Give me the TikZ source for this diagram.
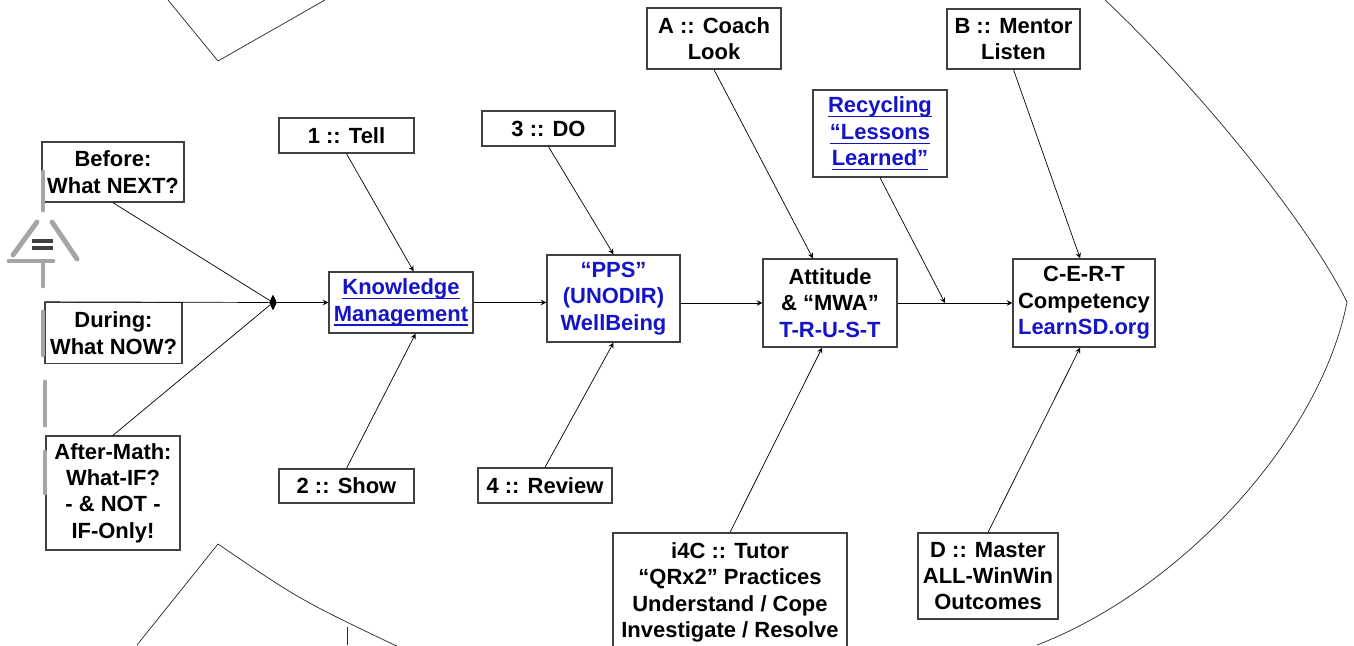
\documentclass[tikz,border=0pt]{standalone}
\usepackage{fontspec}
\setmainfont{Liberation Sans}
\usetikzlibrary{shapes.geometric}
\definecolor{linkblue}{RGB}{20,20,200}
\definecolor{boxgray}{RGB}{64,64,64}
\definecolor{signgray}{RGB}{165,165,165}
\newcommand{\lnk}[1]{\leavevmode\setbox0\hbox{#1}\rlap{\rule[-2.4pt]{\wd0}{0.6pt}}\box0}

\begin{document}
\begin{tikzpicture}[
    box/.style={draw=boxgray, line width=0.8pt, fill=white, align=center, inner sep=1pt,
      font=\bfseries\fontsize{12.5}{15}\selectfont},
    bone/.style={thin, -stealth},
    fin/.style={thin, draw=black!85},
    signline/.style={draw=signgray, line width=2.8pt, line cap=round}]
    \useasboundingbox (0,0) rectangle (27.08,-12.9);
    % fins and head
    \draw [fin] (3.36,0) -- (4.36,-1.22) -- (6.5,0);
    \draw [fin] (2.74,-12.9) -- (4.36,-10.88) .. controls (6.0,-12.0) .. (8.1,-13.0);
    \draw [fin] (6.94,-12.54) -- (6.94,-12.9);
    \draw [fin] (22.1,0) .. controls (23.7,-1.5) and (26.04,-4.24) .. (26.94,-6.04)
      .. controls (26.4,-8.8) and (23.6,-11.8) .. (20.74,-12.9);
    % causes
    \node [box, minimum width=2.84cm, minimum height=1.2cm] (before) at (2.26,-3.44) {Before:\\What NEXT?};
    \node [box, minimum width=2.74cm, minimum height=1.22cm] (during) at (2.27,-6.66) {During:\\What NOW?};
    \node [box, minimum width=2.68cm, minimum height=2.28cm] (after) at (2.26,-9.86) {After-Math:\\What-IF?\\- \& NOT -\\IF-Only!};
    \node [diamond, fill=black, inner sep=0pt, minimum width=0.16cm, minimum height=0.32cm] (merge) at (5.46,-6.05) {};
    \node [box, minimum width=2.7cm, minimum height=0.7cm] (tell) at (6.93,-2.71) {1 :: Tell};
    \node [box, minimum width=2.7cm, minimum height=0.68cm] (show) at (6.93,-9.72) {2 :: Show};
    \node [box, minimum width=2.88cm, minimum height=1.22cm, text=linkblue] (km) at (8.02,-6.05) {\lnk{Knowledge}\\\lnk{Management}};
    \node [box, minimum width=2.66cm, minimum height=0.7cm] (do) at (10.97,-2.57) {3 :: DO};
    \node [box, minimum width=2.68cm, minimum height=0.7cm] (review) at (10.9,-9.71) {4 :: Review};
    \node [box, minimum width=2.66cm, minimum height=1.74cm, text=linkblue] (pps) at (12.27,-5.97) {“PPS”\\(UNODIR)\\WellBeing};
    \node [box, minimum width=2.68cm, minimum height=1.22cm] (coach) at (14.28,-0.77) {A :: Coach\\Look};
    \node [box, minimum width=2.68cm, minimum height=1.76cm] (attitude) at (16.6,-6.06) {Attitude\\\& “MWA”\\{\color{linkblue}T-R-U-S-T}};
    \node [box, minimum width=4.68cm, minimum height=2.38cm] (tutor) at (14.6,-11.85) {i4C :: Tutor\\“QRx2” Practices\\Understand / Cope\\Investigate / Resolve};
    \node [box, minimum width=2.68cm, minimum height=1.74cm, text=linkblue] (recycle) at (17.6,-2.67) {\lnk{Recycling}\\\lnk{“Lessons}\\\lnk{Learned”}};
    \node [box, minimum width=2.66cm, minimum height=1.2cm] (mentor) at (20.27,-0.78) {B :: Mentor\\Listen};
    \node [box, minimum width=2.84cm, minimum height=1.76cm] (cert) at (21.68,-6.06) {C-E-R-T\\Competency\\{\color{linkblue}LearnSD.org}};
    \node [box, minimum width=2.8cm, minimum height=1.72cm] (master) at (19.76,-11.52) {D :: Master\\ALL-WinWin\\Outcomes};
    \coordinate (rc) at (18.9,-6.06);
    % bones
    \draw [thin] (before.south) -- (merge);
    \draw [thin] (during.north west) -- (merge);
    \draw [thin] (after.north) -- (merge);
    \draw [bone] (merge) -- (km.west);
    \draw [bone] (tell.south) -- (km.68);
    \draw [bone] (show.north) -- (km.295);
    \draw [bone] (km.east) -- (km.east -| pps.west);
    \draw [bone] (do.south) -- (pps.north);
    \draw [bone] (review.north) -- (pps.south);
    \draw [bone] (pps.east |- attitude.west) -- (attitude.west);
    \draw [bone] (coach.south) -- (attitude.111);
    \draw [bone] (tutor.north) -- (attitude.260);
    \draw [bone] (attitude.east) -- (cert.west);
    \draw [bone] (recycle.south) -- (rc);
    \draw [bone] (mentor.south) -- (cert.95);
    \draw [bone] (master.north) -- (cert.265);
    % sign on the left
    \draw [signline] (0.86,-3.44) -- (0.86,-4.2);
    \draw [signline] (0.74,-4.44) -- (0.26,-5.1);
    \draw [signline] (1.04,-4.44) -- (1.54,-5.18);
    \draw [signline] (0.18,-5.22) -- (1.06,-5.22);
    \draw [signline] (0.86,-5.24) -- (0.86,-5.72);
    \draw [signline] (0.86,-6.24) -- (0.86,-7.1);
    \draw [signline] (0.9,-7.64) -- (0.9,-8.5);
    \draw [signline] (0.9,-9.04) -- (0.9,-9.86);
    \draw [line width=2pt, draw=black!75] (0.64,-4.82) -- (1.06,-4.82);
    \draw [line width=2pt, draw=black!75] (0.64,-4.96) -- (1.06,-4.96);
  \end{tikzpicture}
\end{document}
